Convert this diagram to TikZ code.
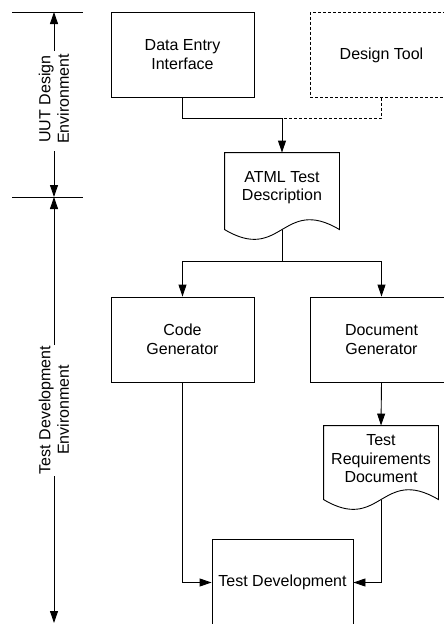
\documentclass[tikz,border=0pt]{standalone}
\usepackage{fontspec}
\setmainfont{Liberation Sans}
\usetikzlibrary{arrows.meta,calc}
\begin{document}
\begin{tikzpicture}[x=1pt,y=-1pt,
  font=\fontsize{16}{18.5}\selectfont,
  line width=0.9pt,
  box/.style={draw, minimum width=143pt, minimum height=85pt, align=center, inner sep=0pt},
  doc/.style={minimum width=114pt, align=center, inner sep=0pt},
  dashbox/.style={dash pattern=on 3pt off 2pt},
  arr/.style={-{Triangle[length=12pt,width=8pt]}},
  sidelabel/.style={rotate=90, align=center, inner sep=0pt}]

\useasboundingbox (0,0) rectangle (444,624);

% left dimension lines
\coordinate (t1l) at (12,12);   \coordinate (t1r) at (83,12);
\coordinate (t2l) at (12,197);  \coordinate (t2r) at (83,197);
\draw (t1l) -- (t1r);
\draw (t2l) -- (t2r);
\node[sidelabel] (uut) at (54,99) {UUT Design\\Environment};
\node[sidelabel] (tde) at (54,410) {Test Development\\Environment};
\coordinate (a1) at (54,12);
\coordinate (a2) at (54,197);
\coordinate (a3) at (54,623);
\coordinate (g1) at (54,51);
\coordinate (g2) at (54,151);
\coordinate (g3) at (54,345);
\coordinate (g4) at (54,476);
\draw[arr] (g1) -- (a1);
\draw[arr] (g2) -- (a2);
\draw[arr] (g3) -- (a2);
\draw[arr] (g4) -- (a3);

% boxes
\node[box] (dei) at (182.5,54.5) {Data Entry\\Interface};
\node[box, dashbox] (dt) at (381.5,55) {Design Tool};

\node[doc, minimum height=69pt] (atml) at (282,187.5) {ATML Test\\Description};
\coordinate (atmlnw) at (atml.north west);
\coordinate (atmlne) at (atml.north east);
\coordinate (atmlsw) at ($(atml.north west)+(0,77)$);
\coordinate (atmlse) at ($(atml.north east)+(0,77)$);
\coordinate (atmlb) at ($(atml.north)+(0,77)$);
\draw (atmlnw) -- (atmlne) -- (atmlse)
  .. controls ($(atmlse)+(-57,-34)$) and ($(atmlsw)+(57,34)$) .. (atmlsw) -- cycle;

\node[box] (cg) at (182.5,339.5) {Code\\Generator};
\node[box] (dg) at (381.5,339.5) {Document\\Generator};

\node[doc, minimum height=66pt] (trd) at (381,459) {Test\\Requirements\\Document};
\coordinate (trdnw) at (trd.north west);
\coordinate (trdne) at (trd.north east);
\coordinate (trdsw) at ($(trd.north west)+(0,74)$);
\coordinate (trdse) at ($(trd.north east)+(0,74)$);
\coordinate (trdb) at ($(trd.north)+(0,74)$);
\draw (trdnw) -- (trdne) -- (trdse)
  .. controls ($(trdse)+(-57,-34)$) and ($(trdsw)+(57,34)$) .. (trdsw) -- cycle;

\node[box, minimum width=141pt, minimum height=87pt] (td) at (282.5,582.5) {Test Development};

% connectors
\coordinate (j1) at (282,118);
\draw (dei.south) |- (j1);
\draw[dashbox] (dt.south) |- (j1);
\draw[arr] (j1) -- (atml.north);

\coordinate (j2) at (282,261);
\draw (atmlb) -- (j2);
\draw[arr] (j2) -| (cg.north);
\draw[arr] (j2) -| (dg.north);

\draw[arr] (dg.south) -- (trd.north);
\draw[arr] (cg.south) |- (td.west);
\draw[arr] (trdb) |- (td.east);
\end{tikzpicture}
\end{document}
